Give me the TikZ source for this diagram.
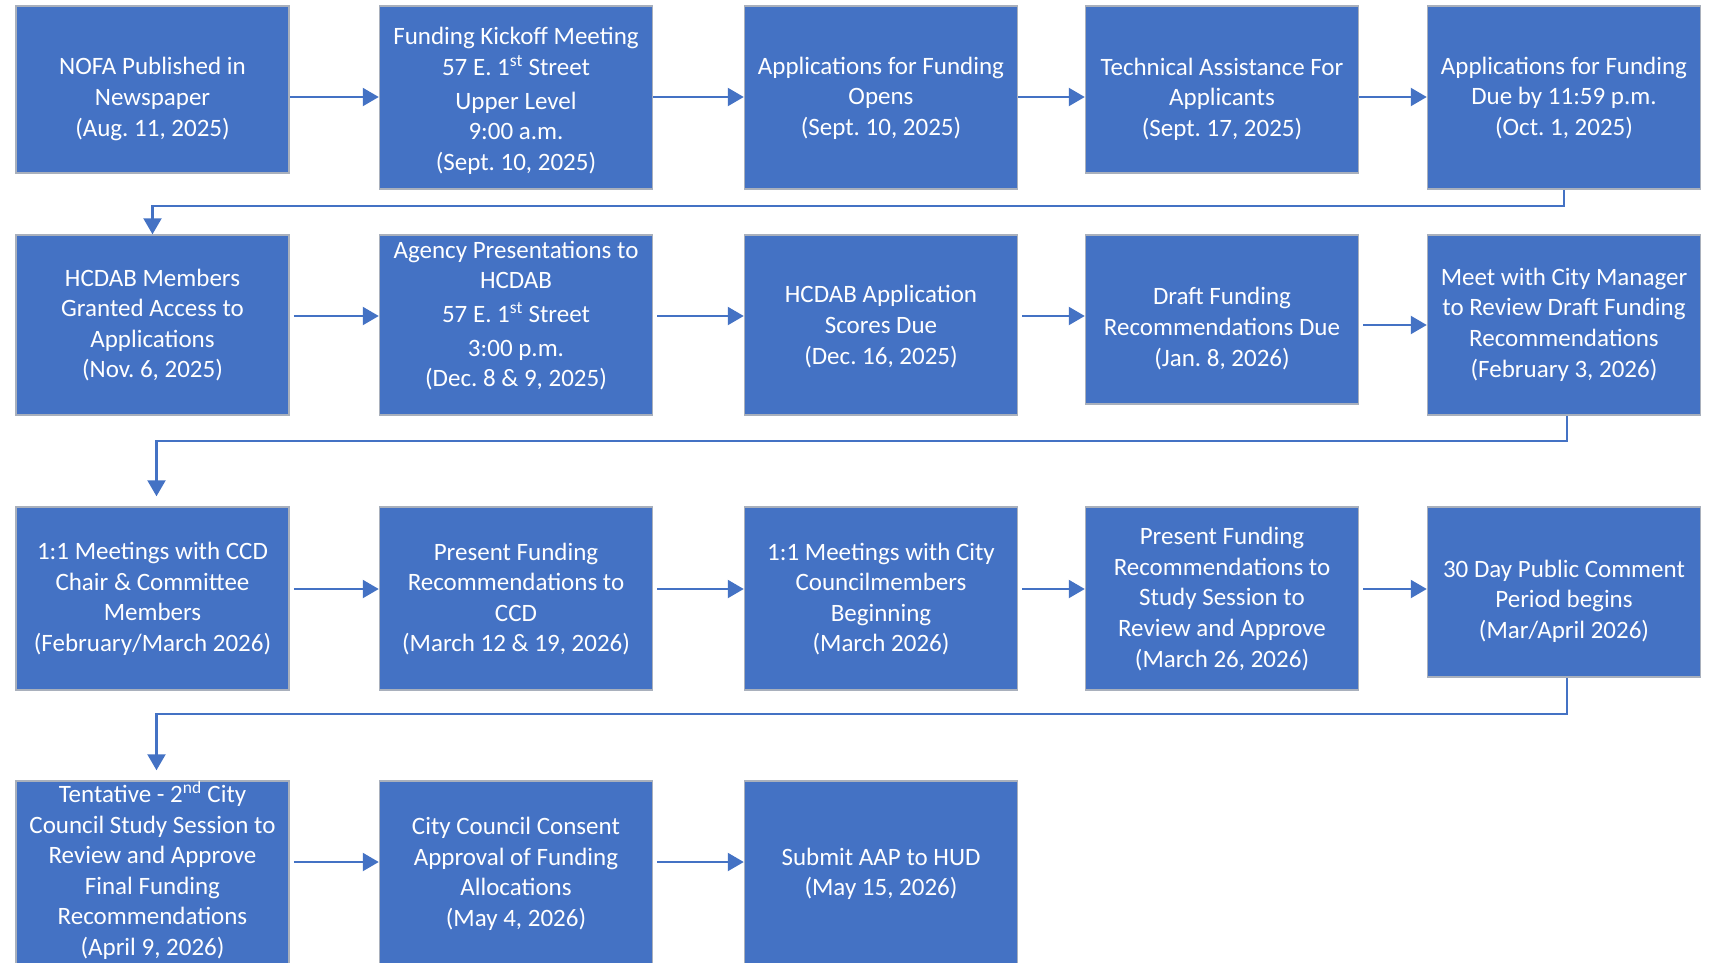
\documentclass[tikz,border=0pt]{standalone}
\usepackage{fontspec}
\setmainfont{Carlito}
\frenchspacing
\usetikzlibrary{arrows.meta}
\definecolor{boxblue}{HTML}{4472C4}
\definecolor{boxedge}{HTML}{A9B0BC}
\definecolor{linkblue}{HTML}{4472C4}
\begin{document}
\begin{tikzpicture}[x=1pt,y=-1pt,
  stepbox/.style={draw=boxedge, line width=1.5pt, fill=boxblue, inner sep=0pt, minimum width=273pt},
  txt/.style={text=white, align=center, font=\fontsize{25}{30.6}\selectfont\frenchspacing, inner sep=0pt},
  arr/.style={draw=linkblue, line width=2.2pt, -{Triangle[length=16pt,width=18pt]}},
  gap/.style={shorten <=4pt}]
\useasboundingbox (0,0) rectangle (1714,962);
\clip (0,0) rectangle (1714,962);
\fill[white] (0,0) rectangle (1714,962);

% row 1
\node[stepbox, minimum height=167pt] (b11) at (152.5,89.5) {};
\node[stepbox, minimum height=183pt] (b12) at (516,97.5) {};
\node[stepbox, minimum height=183pt] (b13) at (881,97.5) {};
\node[stepbox, minimum height=167pt] (b14) at (1222,89.5) {};
\node[stepbox, minimum height=183pt] (b15) at (1564,97.5) {};
% row 2
\node[stepbox, minimum height=180pt] (b21) at (152.5,325) {};
\node[stepbox, minimum height=180pt] (b22) at (516,325) {};
\node[stepbox, minimum height=180pt] (b23) at (881,325) {};
\node[stepbox, minimum height=169pt] (b24) at (1222,319.5) {};
\node[stepbox, minimum height=180pt] (b25) at (1564,325) {};
% row 3
\node[stepbox, minimum height=183pt] (b31) at (152.5,598.5) {};
\node[stepbox, minimum height=183pt] (b32) at (516,598.5) {};
\node[stepbox, minimum height=183pt] (b33) at (881,598.5) {};
\node[stepbox, minimum height=183pt] (b34) at (1222,598.5) {};
\node[stepbox, minimum height=170pt] (b35) at (1564,592) {};
% row 4
\node[stepbox, minimum height=199pt] (b41) at (152.5,880.5) {};
\node[stepbox, minimum height=199pt] (b42) at (516,880.5) {};
\node[stepbox, minimum height=199pt] (b43) at (881,880.5) {};

% texts
\node[txt] (t11) at (152.5,99) {NOFA Published in\\Newspaper\\(Aug. 11, 2025)};
\node[txt] (t12) at (516,101) {Funding Kickoff Meeting\\57 E. 1\textsuperscript{st} Street\\[3pt]Upper Level\\9:00 a.m.\\(Sept. 10, 2025)};
\node[txt] (t13) at (881,98) {Applications for Funding\\Opens\\(Sept. 10, 2025)};
\node[txt] (t14) at (1222,99) {Technical Assistance For\\Applicants\\(Sept. 17, 2025)};
\node[txt] (t15) at (1564,98) {Applications for Funding\\Due by 11:59 p.m.\\(Oct. 1, 2025)};

\node[txt] (t21) at (152.5,325) {HCDAB Members\\Granted Access to\\Applications\\(Nov. 6, 2025)};
\node[txt] (t22) at (516,315.5) {Agency Presentations to\\HCDAB\\[3pt]57 E. 1\textsuperscript{st} Street\\[3pt]3:00 p.m.\\(Dec. 8 \& 9, 2025)};
\node[txt] (t23) at (881,326.5) {HCDAB Application\\Scores Due\\(Dec. 16, 2025)};
\node[txt] (t24) at (1222,328.5) {Draft Funding\\Recommendations Due\\(Jan. 8, 2026)};
\node[txt] (t25) at (1564,324.5) {Meet with City Manager\\to Review Draft Funding\\Recommendations\\(February 3, 2026)};

\node[txt] (t31) at (152.5,599) {1:1 Meetings with CCD\\Chair \& Committee\\Members\\(February/March 2026)};
\node[txt] (t32) at (516,599) {Present Funding\\Recommendations to\\CCD\\(March 12 \& 19, 2026)};
\node[txt] (t33) at (881,599) {1:1 Meetings with City\\Councilmembers\\Beginning\\(March 2026)};
\node[txt] (t34) at (1222,599) {Present Funding\\Recommendations to\\Study Session to\\Review and Approve\\(March 26, 2026)};
\node[txt] (t35) at (1564,601) {30 Day Public Comment\\Period begins\\(Mar/April 2026)};

\node[txt] (t41) at (152.5,870.5) {Tentative - 2\textsuperscript{nd} City\\Council Study Session to\\Review and Approve\\Final Funding\\Recommendations\\(April 9, 2026)};
\node[txt] (t42) at (516,874) {City Council Consent\\Approval of Funding\\Allocations\\(May 4, 2026)};
\node[txt] (t43) at (881,874) {Submit AAP to HUD\\(May 15, 2026)};

% horizontal arrows
\draw[arr] (b11.east |- 0,97) -- (b12.west |- 0,97);
\draw[arr] (b12.east |- 0,97) -- (b13.west |- 0,97);
\draw[arr] (b13.east |- 0,97) -- (b14.west |- 0,97);
\draw[arr] (b14.east |- 0,97) -- (b15.west |- 0,97);

\draw[arr,gap] (b21.east |- 0,316) -- (b22.west |- 0,316);
\draw[arr,gap] (b22.east |- 0,316) -- (b23.west |- 0,316);
\draw[arr,gap] (b23.east |- 0,316) -- (b24.west |- 0,316);
\draw[arr,gap] (b24.east |- 0,325) -- (b25.west |- 0,325);

\draw[arr,gap] (b31.east |- 0,589) -- (b32.west |- 0,589);
\draw[arr,gap] (b32.east |- 0,589) -- (b33.west |- 0,589);
\draw[arr,gap] (b33.east |- 0,589) -- (b34.west |- 0,589);
\draw[arr,gap] (b34.east |- 0,589) -- (b35.west |- 0,589);

\draw[arr,gap] (b41.east |- 0,862) -- (b42.west |- 0,862);
\draw[arr,gap] (b42.east |- 0,862) -- (b43.west |- 0,862);

% row-to-row connectors
\draw[arr] (b15.south) -- (b15.south |- 0,206) -| (b21.north);
\draw[arr] ([xshift=3pt]b25.south) -- ([xshift=3pt]b25.south |- 0,441) -| ([xshift=4pt,yshift=10pt]b31.north);
\draw[arr] ([xshift=3pt]b35.south) -- ([xshift=3pt]b35.south |- 0,714) -| ([xshift=4pt,yshift=10pt]b41.north);
\end{tikzpicture}
\end{document}
